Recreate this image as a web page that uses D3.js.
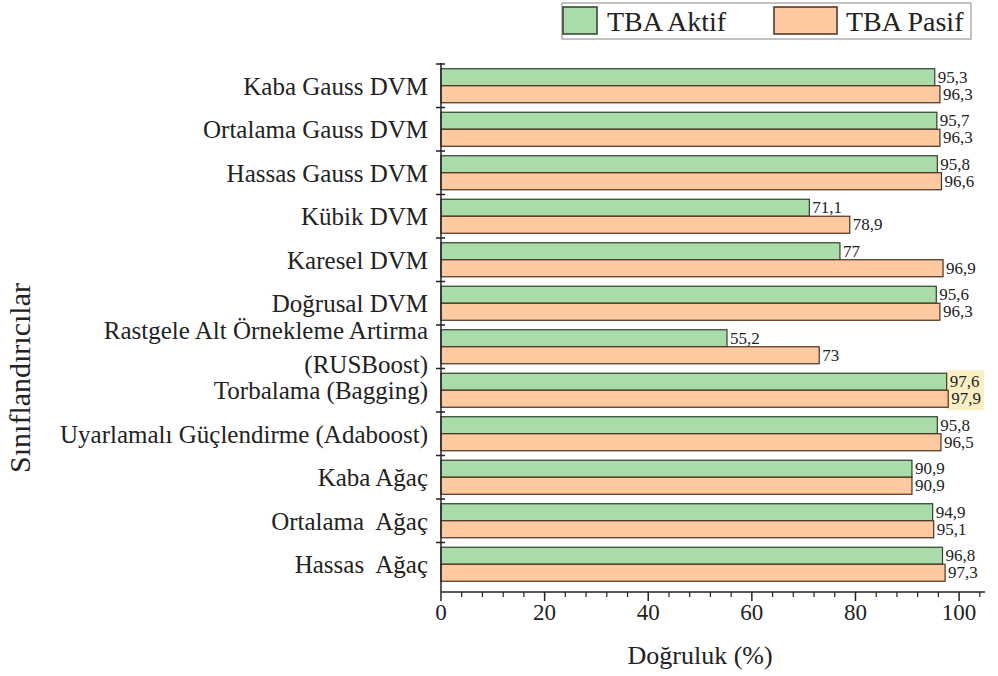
<!DOCTYPE html>
<html>
<head>
<meta charset="utf-8">
<script src="https://cdn.jsdelivr.net/npm/d3@7"></script>
<style>
  body { margin: 0; background: #fff; }
  svg text { font-family: "Liberation Serif", Tinos, "DejaVu Serif", serif; fill: #222; white-space: pre; }
</style>
</head>
<body>
<svg id="chart" width="998" height="676"></svg>
<script>
// Data (top to bottom)
const categories = [
  ["Kaba Gauss DVM"],
  ["Ortalama Gauss DVM"],
  ["Hassas Gauss DVM"],
  ["Kübik DVM"],
  ["Karesel DVM"],
  ["Doğrusal DVM"],
  ["Rastgele Alt Örnekleme Artirma", "(RUSBoost)"],
  ["Torbalama (Bagging)"],
  ["Uyarlamalı Güçlendirme (Adaboost)"],
  ["Kaba Ağaç"],
  ["Ortalama  Ağaç"],
  ["Hassas  Ağaç"]
];
const tbaAktif = [95.3, 95.7, 95.8, 71.1, 77, 95.6, 55.2, 97.6, 95.8, 90.9, 94.9, 96.8];
const tbaPasif = [96.3, 96.3, 96.6, 78.9, 96.9, 96.3, 73, 97.9, 96.5, 90.9, 95.1, 97.3];
const seriesNames = ["TBA Aktif", "TBA Pasif"];
const xTicks = [0, 20, 40, 60, 80, 100];
const highlightRow = 7; // Torbalama labels sit on a yellow patch

const colors = { "TBA Aktif": "#aadcaa", "TBA Pasif": "#fdc9a0" };
const strokes = { "TBA Aktif": "#2f3f2f", "TBA Pasif": "#4a3020" };

const svg = d3.select("#chart");
const axisY = 592, axisTop = 63;

const x = d3.scaleLinear().domain([0, 105]).range([441, 985]);
const rowIds = categories.map((c, i) => i);
const y = d3.scaleBand().domain(rowIds).range([64, 586]).paddingInner(0.218).paddingOuter(0.109);
const ySub = d3.scaleBand().domain(seriesNames).range([0, y.bandwidth()]);

const fmt = v => String(v).replace(".", ",");

// Highlight patch behind the Torbalama value labels (drawn first)
const hl = svg.append("rect").attr("fill", "#fbf0c4");

// Bars
const rows = svg.append("g").selectAll("g")
  .data(rowIds)
  .join("g")
  .attr("transform", i => `translate(0,${y(i)})`);

const barData = i => [
  { s: "TBA Aktif", v: tbaAktif[i] },
  { s: "TBA Pasif", v: tbaPasif[i] }
];

rows.selectAll("rect")
  .data(barData)
  .join("rect")
  .attr("x", x(0))
  .attr("y", d => ySub(d.s))
  .attr("width", d => x(d.v) - x(0))
  .attr("height", ySub.bandwidth())
  .attr("fill", d => colors[d.s])
  .attr("stroke", d => strokes[d.s])
  .attr("stroke-width", 1.2);

rows.selectAll("text.val")
  .data(barData)
  .join("text")
  .attr("class", "val")
  .attr("x", d => x(d.v) + 3)
  .attr("y", d => ySub(d.s) + ySub.bandwidth() / 2)
  .attr("dy", "0.33em")
  .style("font-size", "17px")
  .text(d => fmt(d.v));

// size the highlight from the Torbalama labels
const hlBoxes = rows.filter(i => i === highlightRow).selectAll("text.val").nodes().map(n => n.getBBox());
const hx0 = d3.min(hlBoxes, b => b.x) - 3;
const hx1 = d3.max(hlBoxes, b => b.x + b.width) + 3;
hl.attr("x", hx0).attr("width", hx1 - hx0)
  .attr("y", y(highlightRow) - 3).attr("height", y.bandwidth() + 6);

// X axis
const xAxis = svg.append("g").attr("transform", `translate(0,${axisY})`);
xAxis.append("line").attr("x1", x(0)).attr("x2", x(105)).attr("stroke", "#222").attr("stroke-width", 1.5);
xAxis.selectAll("line.minor")
  .data(d3.range(0, 105.1, 4).filter(v => v % 20 !== 0))
  .join("line")
  .attr("class", "minor")
  .attr("x1", d => x(d)).attr("x2", d => x(d))
  .attr("y1", 0).attr("y2", 5)
  .attr("stroke", "#222").attr("stroke-width", 1.2);
xAxis.selectAll("line.major")
  .data(xTicks)
  .join("line")
  .attr("class", "major")
  .attr("x1", d => x(d)).attr("x2", d => x(d))
  .attr("y1", 0).attr("y2", 9)
  .attr("stroke", "#222").attr("stroke-width", 1.5);
xAxis.selectAll("text")
  .data(xTicks)
  .join("text")
  .attr("x", d => x(d))
  .attr("y", 28)
  .attr("text-anchor", "middle")
  .style("font-size", "23px")
  .text(d => d);

svg.append("text")
  .attr("x", (x(0) + x(100)) / 2)
  .attr("y", 664)
  .attr("text-anchor", "middle")
  .style("font-size", "26px")
  .text("Doğruluk (%)");

// Y axis
const yAxis = svg.append("g");
yAxis.append("line")
  .attr("x1", x(0)).attr("x2", x(0))
  .attr("y1", axisTop).attr("y2", axisY)
  .attr("stroke", "#222").attr("stroke-width", 1.5);
const bounds = rowIds.map(i => y(i) - y.step() * y.paddingInner() / 2);
yAxis.selectAll("line.tick")
  .data(bounds)
  .join("line")
  .attr("class", "tick")
  .attr("x1", x(0) - 5).attr("x2", x(0) + 4)
  .attr("y1", d => d).attr("y2", d => d)
  .attr("stroke", "#222").attr("stroke-width", 1.5);

const lineGap = 34;
yAxis.selectAll("g.lab")
  .data(rowIds)
  .join("g")
  .attr("class", "lab")
  .each(function(i) {
    const lines = categories[i];
    const cy = y(i) + y.bandwidth() / 2;
    d3.select(this).selectAll("text")
      .data(lines)
      .join("text")
      .attr("x", x(0) - 13)
      .attr("y", (ln, k) => cy + (k - (lines.length - 1) / 2) * lineGap)
      .attr("dy", "0.35em")
      .attr("text-anchor", "end")
      .style("font-size", "25px")
      .text(ln => ln);
  });

svg.append("text")
  .attr("transform", "translate(30,378) rotate(-90)")
  .attr("text-anchor", "middle")
  .style("font-size", "30px")
  .text("Sınıflandırıcılar");

// Legend
const legend = svg.append("g");
legend.append("rect")
  .attr("x", 562).attr("y", 3).attr("width", 409).attr("height", 36)
  .attr("fill", "#fff").attr("stroke", "#999").attr("stroke-width", 1.2);
const legItems = [
  { s: seriesNames[0], sx: 563, sw: 34, tx: 607 },
  { s: seriesNames[1], sx: 774, sw: 63, tx: 846 }
];
legItems.forEach(d => {
  legend.append("rect")
    .attr("x", d.sx).attr("y", 7).attr("width", d.sw).attr("height", 27)
    .attr("fill", colors[d.s]).attr("stroke", strokes[d.s]).attr("stroke-width", 1.5);
  legend.append("text")
    .attr("x", d.tx).attr("y", 21).attr("dy", "0.35em")
    .style("font-size", "28px")
    .text(d.s);
});
</script>
</body>
</html>
